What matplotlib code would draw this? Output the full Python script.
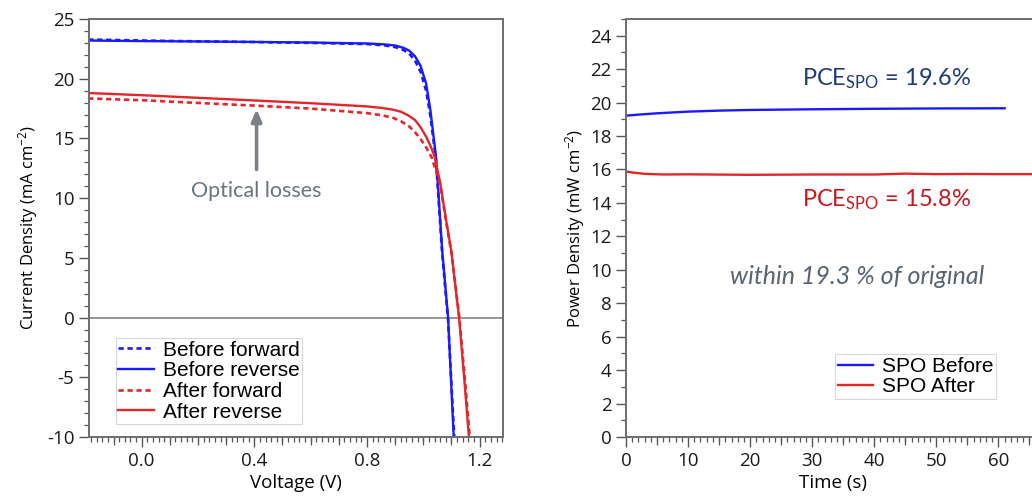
import matplotlib
matplotlib.use("Agg")
import matplotlib.pyplot as plt
from matplotlib.ticker import MultipleLocator

plt.rcParams['font.family'] = ['Open Sans', 'DejaVu Sans']
plt.rcParams['mathtext.default'] = 'regular'
plt.rcParams['axes.unicode_minus'] = False

# J-V sweeps (voltage in V, current density in mA cm^-2)
v_before_rev = [-0.19, 0.0, 0.2, 0.4, 0.6, 0.8, 0.86, 0.9, 0.93, 0.95, 0.97, 0.99, 1.01, 1.025, 1.045, 1.067, 1.088, 1.098, 1.108]
j_before_rev = [23.2, 23.15, 23.12, 23.08, 23.03, 22.95, 22.88, 22.78, 22.58, 22.35, 21.9, 21.1, 19.6, 17.4, 13.5, 5.65, 0.0, -5.0, -10.0]

v_before_fwd = [-0.19, 0.0, 0.2, 0.4, 0.6, 0.8, 0.86, 0.9, 0.93, 0.95, 0.97, 0.99, 1.01, 1.025, 1.045, 1.067, 1.088, 1.099, 1.11]
j_before_fwd = [23.28, 23.2, 23.13, 23.07, 23.0, 22.9, 22.8, 22.65, 22.4, 22.1, 21.55, 20.6, 19.0, 16.9, 13.2, 5.4, -0.2, -5.2, -10.0]

v_after_rev = [-0.19, 0.0, 0.2, 0.4, 0.6, 0.8, 0.85, 0.89, 0.92, 0.945, 0.97, 0.99, 1.01, 1.025, 1.04, 1.06, 1.08, 1.10, 1.127, 1.145, 1.162]
j_after_rev = [18.8, 18.62, 18.4, 18.18, 17.95, 17.68, 17.56, 17.42, 17.24, 16.95, 16.55, 15.95, 15.15, 14.4, 13.5, 11.3, 8.3, 5.5, 0.0, -5.0, -10.0]

v_after_fwd = [-0.19, 0.0, 0.2, 0.4, 0.6, 0.8, 0.85, 0.89, 0.92, 0.95, 0.97, 0.99, 1.01, 1.03, 1.06, 1.08, 1.10, 1.128, 1.147, 1.165]
j_after_fwd = [18.35, 18.2, 17.97, 17.75, 17.5, 17.12, 16.95, 16.75, 16.45, 16.0, 15.55, 14.95, 14.25, 13.4, 11.1, 8.2, 5.4, 0.0, -5.0, -10.0]

# Stabilised power output (time in s, power density in mW cm^-2)
t_before = [0, 2, 5, 10, 15, 20, 30, 40, 50, 61]
p_before = [19.22, 19.28, 19.36, 19.46, 19.52, 19.56, 19.6, 19.63, 19.65, 19.66]

t_after = [0, 1, 3, 6, 10, 20, 30, 40, 45, 50, 55, 60, 67]
p_after = [15.88, 15.82, 15.74, 15.7, 15.71, 15.68, 15.7, 15.7, 15.75, 15.72, 15.73, 15.72, 15.72]

BLUE = '#1a1aff'
RED = '#e3262a'
SPINE = '#6e6e6e'
DOT = (0, (2.0, 1.4))
LEGEND_FONT = {'family': ['Liberation Sans'], 'size': 15}
NOTE_FONT = ['Lato', 'DejaVu Sans']

fig = plt.figure(figsize=(10.32, 5.0), dpi=100)
ax1 = fig.add_axes([89 / 1032, 63 / 500, 414 / 1032, 418 / 500])
ax2 = fig.add_axes([626 / 1032, 63 / 500, 414 / 1032, 418 / 500])


def style(ax):
    for s in ax.spines.values():
        s.set_color(SPINE)
        s.set_linewidth(1.4)
    ax.tick_params(which='both', direction='out', color='#555555', labelsize=13.5,
                   labelcolor='#1a1a1a', top=False, right=False)
    ax.tick_params(which='major', length=7, width=1.0, pad=3.5)
    ax.tick_params(which='minor', length=3.5, width=0.9)


def medium_ticks(ax, positions):
    sec = ax.secondary_xaxis('bottom')
    sec.set_xticks(positions)
    sec.tick_params(length=5.5, width=0.9, color='#555555', labelbottom=False)
    sec.spines['bottom'].set_visible(False)


def legend(ax, anchor):
    leg = ax.legend(loc='lower left', bbox_to_anchor=anchor, borderaxespad=0,
                    prop=LEGEND_FONT, frameon=True, fancybox=False,
                    handlelength=1.7, handletextpad=0.45,
                    labelspacing=0.08, borderpad=0.12)
    leg.get_frame().set_edgecolor('#cccccc')
    leg.get_frame().set_linewidth(0.8)
    return leg


# Left panel: J-V curves
style(ax1)
ax1.axhline(0, color='#7a7a7a', lw=1.1, zorder=1)
ax1.plot(v_before_fwd, j_before_fwd, color=BLUE, lw=1.9, ls=DOT, label='Before forward')
ax1.plot(v_before_rev, j_before_rev, color=BLUE, lw=1.7, label='Before reverse')
ax1.plot(v_after_fwd, j_after_fwd, color=RED, lw=1.9, ls=DOT, label='After forward')
ax1.plot(v_after_rev, j_after_rev, color=RED, lw=1.7, label='After reverse')
ax1.set_xlim(-0.187, 1.283)
ax1.set_ylim(-10, 25)
ax1.set_xticks([0.0, 0.4, 0.8, 1.2])
ax1.set_xticklabels(['0.0', '0.4', '0.8', '1.2'])
ax1.xaxis.set_minor_locator(MultipleLocator(0.02))
ax1.yaxis.set_major_locator(MultipleLocator(5))
ax1.yaxis.set_minor_locator(MultipleLocator(1))
medium_ticks(ax1, [-0.1, 0.1, 0.2, 0.3, 0.5, 0.6, 0.7, 0.9, 1.0, 1.1])
ax1.set_xlabel('Voltage (V)', fontsize=13.5, labelpad=3)
ax1.set_ylabel('Current Density (mA cm$^{-2}$)', fontsize=12, labelpad=5)

ax1.annotate('', xy=(0.408, 17.45), xytext=(0.408, 12.4),
             arrowprops=dict(arrowstyle='-|>,head_length=0.7,head_width=0.3',
                             color='#7b8088', lw=2.6, shrinkA=0, shrinkB=0))
ax1.text(0.408, 10.6, 'Optical losses', ha='center', va='center', fontsize=15.5,
         color='#6b737c', family=NOTE_FONT)

legend(ax1, (0.065, 0.031))

# Right panel: stabilised power output
style(ax2)
ax2.plot(t_before, p_before, color=BLUE, lw=1.7, label='SPO Before')
ax2.plot(t_after, p_after, color=RED, lw=1.7, label='SPO After')
ax2.set_xlim(0, 66.7)
ax2.set_ylim(0, 25)
ax2.xaxis.set_major_locator(MultipleLocator(10))
ax2.xaxis.set_minor_locator(MultipleLocator(1))
ax2.yaxis.set_major_locator(MultipleLocator(2))
ax2.yaxis.set_minor_locator(MultipleLocator(1))
medium_ticks(ax2, [5, 15, 25, 35, 45, 55, 65])
ax2.set_xlabel('Time (s)', fontsize=13.5, labelpad=3)
ax2.set_ylabel('Power Density (mW cm$^{-2}$)', fontsize=12, labelpad=2)

ax2.text(42.0, 21.4, 'PCE$_{SPO}$ = 19.6%', ha='center', va='center', fontsize=17,
         color='#1f3a78', family=NOTE_FONT)
ax2.text(42.0, 14.2, 'PCE$_{SPO}$ = 15.8%', ha='center', va='center', fontsize=17,
         color='#c8171d', family=NOTE_FONT)
ax2.text(37.2, 9.6, 'within 19.3 % of original', ha='center', va='center', fontsize=18,
         color='#5a6370', style='italic', family=NOTE_FONT)

legend(ax2, (0.505, 0.091))

fig.savefig('out.png', dpi=100)
